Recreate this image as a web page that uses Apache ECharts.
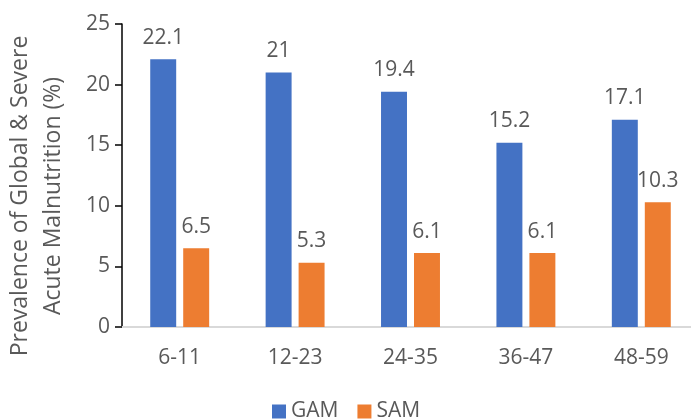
<!DOCTYPE html>
<html>
<head>
<meta charset="utf-8">
<script src="https://cdn.jsdelivr.net/npm/echarts@6/dist/echarts.min.js"></script>
<style>
html,body{margin:0;padding:0;background:#fff;overflow:hidden;}
#main{width:699px;height:420px;}
</style>
</head>
<body>
<div id="main"></div>
<script>
var categories = ['6-11', '12-23', '24-35', '36-47', '48-59'];
var gamValues = [22.1, 21, 19.4, 15.2, 17.1];
var samValues = [6.5, 5.3, 6.1, 6.1, 10.3];
var yTitleLines = ['Prevalence of Global & Severe', 'Acute Malnutrition (%)'];

var FONT = 'Open Sans';
var TXT = '#595959';
var FS = 21;
var chart = echarts.init(document.getElementById('main'));
chart.setOption({
  animation: false,
  backgroundColor: '#fff',
  grid: { left: 122, top: 24, right: 0, height: 303, containLabel: false },
  legend: {
    top: 401,
    left: 272,
    padding: 0,
    itemWidth: 14,
    itemHeight: 14,
    itemGap: 19,
    icon: 'rect',
    textStyle: { color: TXT, fontSize: FS, fontFamily: FONT },
    data: ['GAM', 'SAM']
  },
  xAxis: {
    type: 'category',
    data: categories,
    axisLine: { lineStyle: { color: '#d9d9d9', width: 2 } },
    axisTick: { show: false },
    axisLabel: { color: TXT, fontSize: FS, fontFamily: FONT, margin: 21 }
  },
  yAxis: {
    type: 'value',
    min: 0, max: 25, interval: 5,
    axisLine: { show: true, lineStyle: { color: '#000', width: 1.5 } },
    axisTick: { show: true, length: 7, lineStyle: { color: '#000', width: 1.5 } },
    splitLine: { show: false },
    axisLabel: { color: TXT, fontSize: FS, fontFamily: FONT, margin: 12 }
  },
  graphic: [
    { type: 'text', x: 20, y: 196, rotation: Math.PI / 2,
      style: { text: yTitleLines[0], fill: TXT, fontSize: 23, fontFamily: FONT, textAlign: 'center', textVerticalAlign: 'middle' } },
    { type: 'text', x: 53, y: 196, rotation: Math.PI / 2,
      style: { text: yTitleLines[1], fill: TXT, fontSize: 23, fontFamily: FONT, textAlign: 'center', textVerticalAlign: 'middle' } }
  ],
  series: [
    { name: 'GAM', type: 'bar', data: gamValues, barWidth: '22.5%', barGap: '27%',
      itemStyle: { color: '#4472C4' },
      label: { show: true, position: 'top', distance: 11, color: TXT, fontSize: FS, fontFamily: FONT } },
    { name: 'SAM', type: 'bar', data: samValues, barWidth: '22.5%', barGap: '27%',
      itemStyle: { color: '#ED7D31' },
      label: { show: true, position: 'top', distance: 11, color: TXT, fontSize: FS, fontFamily: FONT } }
  ]
});
</script>
</body>
</html>
